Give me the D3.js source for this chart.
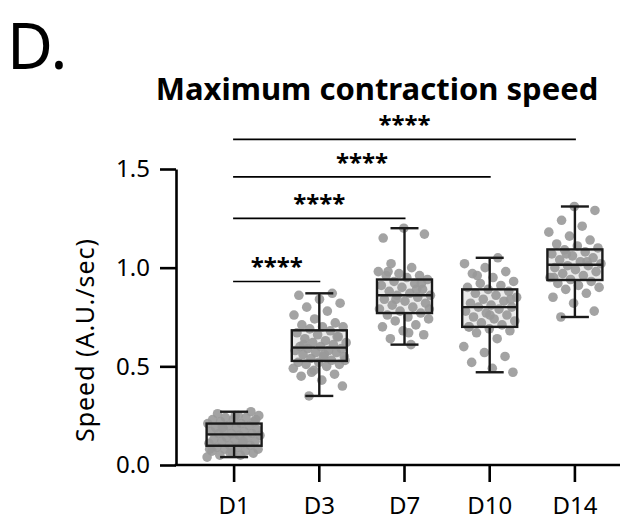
<!DOCTYPE html>
<html><head><meta charset="utf-8">
<script src="https://cdn.jsdelivr.net/npm/d3@7"></script>
<style>body{margin:0;background:#fff;} svg{display:block;} text{font-family:"Noto Sans","Open Sans",sans-serif;}</style>
</head><body><svg id="c" width="630" height="525"></svg>
<script>
const categories = ["D1","D3","D7","D10","D14"];
const D1 = [0.04,0.05,0.05,0.06,0.06,0.07,0.07,0.08,0.08,0.09,0.09,0.10,0.10,0.11,0.11,0.12,0.12,0.13,0.13,0.14,0.14,0.15,0.15,0.16,0.16,0.16,0.17,0.17,0.18,0.18,0.19,0.19,0.20,0.20,0.21,0.21,0.22,0.22,0.23,0.23,0.24,0.24,0.25,0.25,0.26,0.27,0.06,0.08,0.12,0.19,0.23,0.25];
const D3 = [0.35,0.40,0.43,0.45,0.46,0.48,0.49,0.50,0.51,0.51,0.52,0.52,0.53,0.54,0.55,0.55,0.56,0.57,0.57,0.58,0.58,0.59,0.59,0.60,0.60,0.61,0.62,0.62,0.63,0.64,0.65,0.66,0.67,0.68,0.69,0.70,0.70,0.71,0.72,0.74,0.76,0.78,0.80,0.82,0.84,0.86,0.87,0.47,0.53,0.56,0.61,0.65];
const D7 = [0.61,0.64,0.66,0.68,0.70,0.71,0.73,0.74,0.75,0.76,0.77,0.78,0.79,0.80,0.81,0.82,0.83,0.84,0.85,0.86,0.86,0.87,0.88,0.89,0.90,0.91,0.92,0.93,0.94,0.95,0.96,0.96,0.97,0.98,1.00,1.02,1.17,1.20,1.15,0.89,0.84,0.79,0.67,0.98,0.92];
const D10 = [0.47,0.49,0.52,0.55,0.57,0.60,0.64,0.67,0.68,0.69,0.70,0.71,0.72,0.73,0.74,0.75,0.76,0.77,0.78,0.79,0.80,0.80,0.81,0.82,0.83,0.84,0.85,0.86,0.87,0.88,0.89,0.90,0.91,0.92,0.93,0.95,0.97,0.98,1.00,1.02,1.05,0.96,0.84,0.76,0.70];
const D14 = [0.75,0.78,0.82,0.85,0.87,0.89,0.90,0.91,0.92,0.93,0.94,0.95,0.96,0.97,0.98,0.99,1.00,1.01,1.01,1.02,1.03,1.04,1.05,1.06,1.07,1.08,1.09,1.10,1.11,1.12,1.14,1.16,1.18,1.21,1.24,1.29,1.31,0.95,1.03,1.07];
const seriesValues = [D1, D3, D7, D10, D14];
const yTicks = [0, 0.5, 1.0, 1.5];
const comparisons = [["D1","D14"],["D1","D10"],["D1","D7"],["D1","D3"]];
const compLevels = [1.65, 1.46, 1.25, 0.93];
const compLabels = ["****","****","****","****"];

const svg = d3.select("#c");
const x = d3.scaleBand().domain(categories).range([191.5, 617.5]).paddingInner(0).paddingOuter(0);
const cx = c => x(c) + x.bandwidth()/2;
const y = d3.scaleLinear().domain([0, 1.5]).range([465, 169]);

// panel letter & title
svg.append("text").attr("x", 7).attr("y", 69).attr("font-size", 63)
  .attr("font-family", "'DejaVu Sans Condensed','DejaVu Sans',sans-serif").attr("fill","#000").text("D.");
svg.append("text").attr("x", 377).attr("y", 100).attr("text-anchor","middle").attr("font-size", 31).attr("font-weight","bold").attr("fill","#000").text("Maximum contraction speed");

// boxes
const boxW = 55, capW = 28;
categories.forEach((c, k) => {
  const vals = seriesValues[k].slice().sort(d3.ascending);
  const q1 = d3.quantile(vals, 0.25), med = d3.quantile(vals, 0.5), q3 = d3.quantile(vals, 0.75);
  const lo = d3.min(vals), hi = d3.max(vals);
  const g = svg.append("g");
  const xc = cx(c);
  g.append("rect").attr("x", xc - boxW/2).attr("y", y(q3)).attr("width", boxW).attr("height", y(q1) - y(q3)).attr("fill", "#ebebeb");
  g.selectAll("circle").data(seriesValues[k]).join("circle")
    .attr("cx", (d, i) => xc + (((i * 0.6180339887 + k * 0.31) % 1) - 0.5) * 54)
    .attr("cy", d => y(d)).attr("r", 4.8).attr("fill", "#999999").attr("fill-opacity", 0.9);
  const st = {stroke:"#1a1a1a","stroke-width":2.4, fill:"none"};
  const line = (x1,y1,x2,y2) => { const l = g.append("line").attr("x1",x1).attr("y1",y1).attr("x2",x2).attr("y2",y2); Object.entries(st).forEach(([a,v])=>l.attr(a,v)); };
  const r = g.append("rect").attr("x", xc - boxW/2).attr("y", y(q3)).attr("width", boxW).attr("height", y(q1) - y(q3));
  Object.entries(st).forEach(([a,v])=>r.attr(a,v));
  line(xc - boxW/2, y(med), xc + boxW/2, y(med));
  line(xc, y(q3), xc, y(hi)); line(xc, y(q1), xc, y(lo));
  line(xc - capW/2, y(hi), xc + capW/2, y(hi)); line(xc - capW/2, y(lo), xc + capW/2, y(lo));
});

// axes
const yAxis = svg.append("g").attr("transform", "translate(176,0)")
  .call(d3.axisLeft(y).tickValues(yTicks).tickFormat(d3.format(".1f")).tickSize(16).tickSizeOuter(0).tickPadding(10));
yAxis.selectAll("path,line").attr("stroke","#000").attr("stroke-width",2.6);
yAxis.selectAll("text").attr("font-size",24).attr("fill","#000").attr("font-family","Noto Sans, sans-serif");

const xAxis = svg.append("g").attr("transform", "translate(0,465)")
  .call(d3.axisBottom(x).tickSize(17).tickSizeOuter(0).tickPadding(15));
xAxis.select(".domain").remove();
xAxis.selectAll("line").attr("stroke","#000").attr("stroke-width",2.6);
xAxis.selectAll("text").attr("font-size",24).attr("fill","#000").attr("font-family","Noto Sans, sans-serif");
svg.append("line").attr("x1", 174.7).attr("x2", 620).attr("y1", 465).attr("y2", 465).attr("stroke","#000").attr("stroke-width",2.6);

svg.append("text").attr("transform", `translate(94,${340}) rotate(-90)`).attr("text-anchor","middle")
  .attr("font-size", 25).attr("letter-spacing", 1).attr("fill","#000").text("Speed (A.U./sec)");

// significance bars
comparisons.forEach((p, i) => {
  const x1 = cx(p[0]) - 1, x2 = cx(p[1]) + 1, yy = y(compLevels[i]);
  svg.append("line").attr("x1", x1).attr("x2", x2).attr("y1", yy).attr("y2", yy).attr("stroke","#000").attr("stroke-width",1.6);
  svg.append("text").attr("x", (x1 + x2)/2).attr("y", yy - 6).attr("text-anchor","middle").attr("font-size", 24).attr("font-weight","bold").attr("fill","#000").text(compLabels[i]);
});
</script></body></html>
